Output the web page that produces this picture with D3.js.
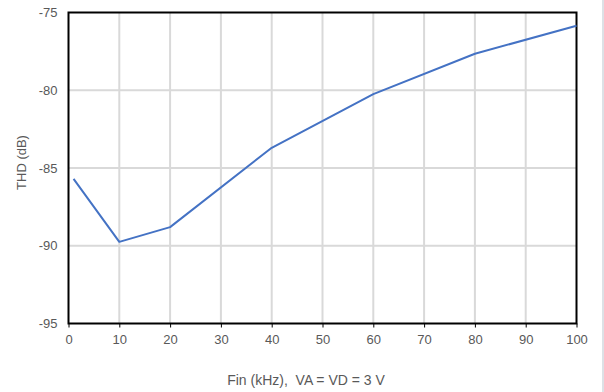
<!DOCTYPE html>
<html>
<head>
<meta charset="utf-8">
<script src="https://cdn.jsdelivr.net/npm/d3@7"></script>
<style>
  html, body { margin: 0; padding: 0; background: #fff; }
  svg { display: block; }
  text { font-family: "Liberation Sans", Arial, sans-serif; }
</style>
</head>
<body>
<svg id="chart" width="604" height="392"></svg>
<script>
// THD versus input frequency
const freqKHz = [1, 10, 20, 40, 60, 80, 100];
const thdDb = [-85.7, -89.75, -88.8, -83.7, -80.25, -77.65, -75.85];
const xTicks = [0, 10, 20, 30, 40, 50, 60, 70, 80, 90, 100];
const yTicks = [-95, -90, -85, -80, -75];
const xTitle = "Fin (kHz),  VA = VD = 3 V";
const yTitle = "THD (dB)";

const svg = d3.select("#chart");
const W = 604, H = 392;
const m = { left: 68.5, right: 27.5, top: 12.5, bottom: 68.5 };
const iw = W - m.left - m.right, ih = H - m.top - m.bottom;
const plain = d => String(d);

// thin panel edge on the right
svg.append("rect").attr("x", 602).attr("y", 0).attr("width", 2).attr("height", H).attr("fill", "#dde1e6");

const x = d3.scaleLinear().domain([0, 100]).range([0, iw]);
const y = d3.scaleLinear().domain([-95, -75]).range([ih, 0]);

const g = svg.append("g").attr("transform", `translate(${m.left},${m.top})`);

// gridlines
g.append("g").selectAll("line").data(xTicks.slice(1, -1)).join("line")
  .attr("x1", d => x(d)).attr("x2", d => x(d)).attr("y1", 0).attr("y2", ih)
  .attr("stroke", "#d9d9d9").attr("stroke-width", 2);
g.append("g").selectAll("line").data(yTicks.slice(1, -1)).join("line")
  .attr("x1", 0).attr("x2", iw).attr("y1", d => y(d)).attr("y2", d => y(d))
  .attr("stroke", "#d9d9d9").attr("stroke-width", 2);

// x axis
const xAxis = g.append("g").attr("transform", `translate(0,${ih})`)
  .call(d3.axisBottom(x).tickValues(xTicks).tickSize(4).tickPadding(7).tickFormat(plain));
xAxis.select(".domain").remove();
xAxis.selectAll(".tick line").attr("stroke", "#000").attr("stroke-width", 1);
xAxis.selectAll("text").attr("fill", "#595959").attr("font-size", 13);

// y axis labels
const yAxis = g.append("g")
  .call(d3.axisLeft(y).tickValues(yTicks).tickSize(0).tickPadding(11).tickFormat(plain));
yAxis.select(".domain").remove();
yAxis.selectAll("text").attr("fill", "#595959").attr("font-size", 13);

// frame
g.append("rect").attr("x", 0).attr("y", 0).attr("width", iw).attr("height", ih)
  .attr("fill", "none").attr("stroke", "#000").attr("stroke-width", 2);

// series
const line = d3.line().x((d, i) => x(freqKHz[i])).y(d => y(d));
g.append("path").datum(thdDb).attr("d", line)
  .attr("fill", "none").attr("stroke", "#4472c4").attr("stroke-width", 2)
  .attr("stroke-linejoin", "round");

// titles
svg.append("text").attr("x", 306).attr("y", 385).attr("text-anchor", "middle")
  .style("white-space", "pre")
  .attr("font-size", 14).attr("fill", "#595959").text(xTitle);
svg.append("text").attr("transform", "translate(25.5,162.5) rotate(-90)").attr("text-anchor", "middle")
  .attr("font-size", 13).attr("fill", "#595959").text(yTitle);
</script>
</body>
</html>
